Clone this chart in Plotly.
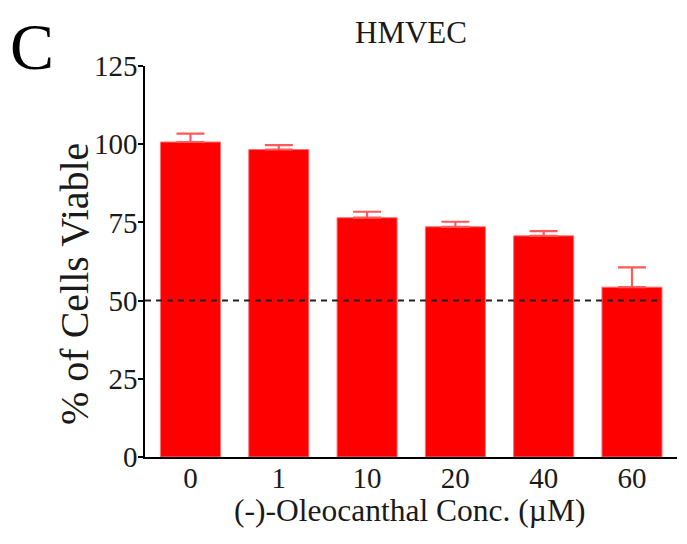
import plotly.graph_objects as go

categories = ["0", "1", "10", "20", "40", "60"]
viability = [100.7, 98.3, 76.5, 73.6, 70.7, 54.3]
error_up = [2.7, 1.4, 1.9, 1.6, 1.5, 6.3]
y_ticks = [0, 25, 50, 75, 100, 125]
threshold = 50

FONT = "Liberation Serif, Times New Roman, serif"
OFF = 8  # page body margin offset
W, H = 687 - OFF, 544 - OFF
L, T = 145 - OFF, 66 - OFF
PW, PH = 532, 391
R, B = W - L - PW, H - T - PH


def px(xp):
    return (xp - OFF - L) / PW


def py(yp):
    return (T + PH - (yp - OFF)) / PH


fig = go.Figure()
fig.add_trace(go.Bar(
    x=list(range(len(categories))),
    y=viability,
    width=0.68,
    marker=dict(color="#ff0000", line=dict(color="#ff7070", width=1)),
    error_y=dict(type="data", symmetric=False, array=error_up,
                 arrayminus=[0] * len(error_up),
                 color="#ff5a5a", thickness=2.2, width=14),
    showlegend=False,
))

fig.add_shape(type="line", xref="x", yref="y",
              x0=-0.515, x1=5.34, y0=threshold, y1=threshold,
              line=dict(color="#222222", width=2, dash="6px,5px"), layer="above")

fig.update_layout(
    width=W, height=H,
    margin=dict(l=L, r=R, t=T, b=B, autoexpand=False),
    paper_bgcolor="white", plot_bgcolor="white",
    font=dict(family=FONT, color="#1a1a1a"),
    annotations=[
        dict(text="C", xref="paper", yref="paper", x=px(8), y=py(46),
             xanchor="left", yanchor="middle", showarrow=False,
             font=dict(size=66, family=FONT, color="black")),
        dict(text="HMVEC", xref="paper", yref="paper", x=px(411), y=py(32),
             xanchor="center", yanchor="middle", showarrow=False,
             font=dict(size=31, family=FONT, color="#1a1a1a")),
        dict(text="(-)-Oleocanthal Conc. (µM)", xref="paper", yref="paper",
             x=px(409), y=py(510), xanchor="center", yanchor="middle", showarrow=False,
             font=dict(size=31.5, family=FONT, color="#1a1a1a")),
        dict(text="% of Cells Viable", xref="paper", yref="paper",
             x=px(74), y=py(284), xanchor="center", yanchor="middle", showarrow=False,
             textangle=-90, font=dict(size=40, family=FONT, color="#1a1a1a")),
    ],
)

fig.update_xaxes(
    range=[-0.515, 5.51], automargin=False,
    tickmode="array", tickvals=list(range(len(categories))), ticktext=categories,
    ticks="", showline=True, linecolor="black", linewidth=1.5,
    showgrid=False, zeroline=False, ticklabelstandoff=-6,
    tickfont=dict(size=29, family=FONT, color="#1a1a1a"),
)
fig.update_yaxes(
    range=[0, 125], automargin=False,
    tickmode="array", tickvals=y_ticks,
    ticks="outside", ticklen=5, tickwidth=1.5, tickcolor="black",
    showline=True, linecolor="black", linewidth=1.5,
    showgrid=False, zeroline=False, ticklabelstandoff=-5,
    tickfont=dict(size=29, family=FONT, color="#1a1a1a"),
)

fig.write_html("out.html")
